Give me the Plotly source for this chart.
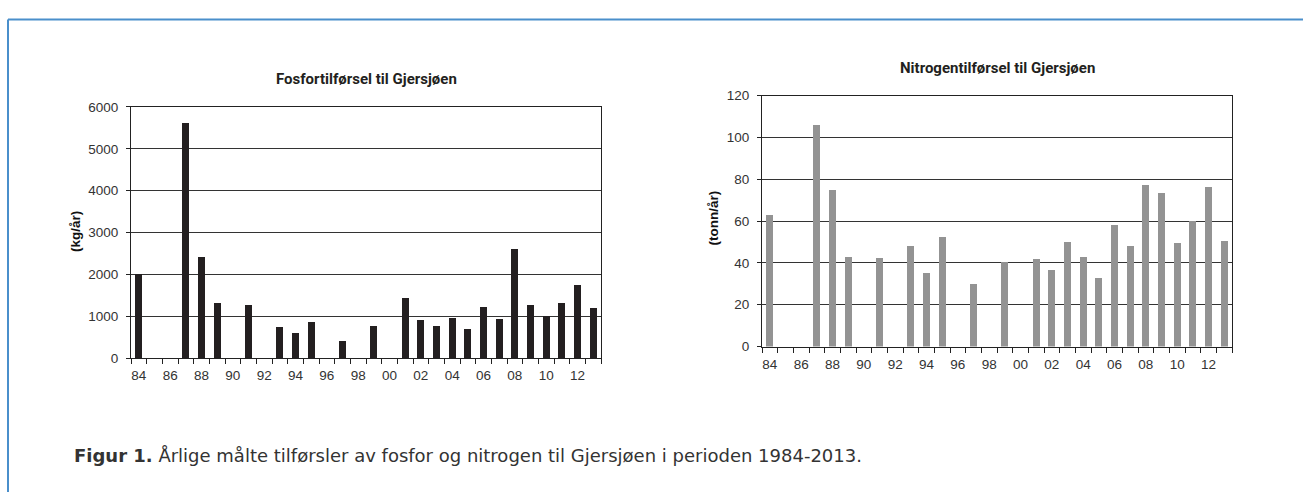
import plotly.graph_objects as go

# years 1984-2013, shown as two-digit labels
years = [1984, 1985, 1986, 1987, 1988, 1989, 1990, 1991, 1992, 1993,
         1994, 1995, 1996, 1997, 1998, 1999, 2000, 2001, 2002, 2003,
         2004, 2005, 2006, 2007, 2008, 2009, 2010, 2011, 2012, 2013]
year_labels = ['84', '85', '86', '87', '88', '89', '90', '91', '92', '93',
               '94', '95', '96', '97', '98', '99', '00', '01', '02', '03',
               '04', '05', '06', '07', '08', '09', '10', '11', '12', '13']

# fosfor, kg/år (None = ikke målt)
fosfor = [2000, None, None, 5620, 2420, 1310, None, 1270, None, 750,
          600, 860, None, 400, None, 760, None, 1440, 920, 780,
          960, 700, 1230, 940, 2620, 1270, 1010, 1330, 1760, 1190]

# nitrogen, tonn/år
nitrogen = [63, None, None, 106, 75, 43, None, 42.5, None, 48,
            35.5, 52.5, None, 30, None, 40.5, None, 42, 36.5, 50.2,
            42.8, 33, 58.2, 48.2, 77.5, 73.5, 49.5, 60, 76.5, 50.5]

W, H = 1303, 500
BORDER_BLUE = '#4a8fcb'
TEXT = '#231f20'

fig = go.Figure()

fig.add_trace(go.Bar(x=years, y=fosfor, width=0.43, marker_color='#231f20',
                     marker_line_width=0, xaxis='x', yaxis='y'))
fig.add_trace(go.Bar(x=years, y=nitrogen, width=0.43, marker_color='#939393',
                     marker_line_width=0, xaxis='x2', yaxis='y2'))

tick_font = dict(family='Liberation Sans, Arial', size=13.5, color='#333333')


def x_axis(domain, anchor):
    return dict(
        domain=domain, anchor=anchor,
        range=[years[0] - 0.5, years[-1] + 0.5],
        tickvals=years[::2], ticktext=year_labels[::2],
        ticks='', ticklabelstandoff=5,
        showgrid=False, zeroline=False,
        showline=True, linecolor='#222222', linewidth=1, mirror=True,
        minor=dict(tickvals=[y - 0.5 for y in years] + [years[-1] + 0.5],
                   ticks='outside', ticklen=5, tickcolor='#222222', showgrid=False),
        tickfont=tick_font, fixedrange=True)


def y_axis(domain, anchor, top, step):
    return dict(
        domain=domain, anchor=anchor,
        range=[0, top], dtick=step,
        ticks='outside', ticklen=4, tickcolor='#222222', ticklabelstandoff=5,
        showgrid=True, gridcolor='#333333', gridwidth=1,
        zeroline=False,
        showline=True, linecolor='#222222', linewidth=1, mirror=True,
        tickfont=tick_font, fixedrange=True)


fig.update_layout(
    width=W, height=H,
    margin=dict(l=0, r=0, t=0, b=0),
    paper_bgcolor='white', plot_bgcolor='white',
    showlegend=False,
    bargap=0,
    xaxis=x_axis([131 / W, 601 / W], 'y'),
    yaxis=y_axis([1 - 362 / H, 1 - 103 / H], 'x', 6000, 1000),
    xaxis2=x_axis([762 / W, 1232 / W], 'y2'),
    yaxis2=y_axis([1 - 350 / H, 1 - 91.5 / H], 'x2', 120, 20),
)

title_font = dict(family='Roboto', size=15, color=TEXT)
axis_title_font = dict(family='Liberation Sans, Arial', size=13.5, color='#111111')

annotations = [
    dict(text='<b>Fosfortilførsel til Gjersjøen</b>', x=366 / W, y=1 - 74 / H,
         font=title_font),
    dict(text='<b>Nitrogentilførsel til Gjersjøen</b>', x=997 / W, y=1 - 63 / H,
         font=title_font),
    dict(text='<b>(kg/år)</b>', x=75 / W, y=1 - 232 / H, textangle=-90,
         font=axis_title_font),
    dict(text='<b>(tonn/år)</b>', x=713 / W, y=1 - 218 / H, textangle=-90,
         font=axis_title_font),
    dict(text='<b>Figur 1.</b> Årlige målte tilførsler av fosfor og nitrogen til '
              'Gjersjøen i perioden 1984-2013.',
         x=72 / W, y=1 - 462 / H, xanchor='left',
         font=dict(family='DejaVu Sans', size=18, color='#333333')),
]
for a in annotations:
    a.setdefault('xanchor', 'center')
    a.update(xref='paper', yref='paper', yanchor='middle', showarrow=False)
fig.update_layout(annotations=annotations)

# blue frame: top and left edge of the figure box
fig.add_shape(type='line', xref='paper', yref='paper',
              x0=8 / W, x1=1, y0=1 - 13 / H, y1=1 - 13 / H,
              line=dict(color=BORDER_BLUE, width=2))
fig.add_shape(type='line', xref='paper', yref='paper',
              x0=8 / W, x1=8 / W, y0=0, y1=1 - 13 / H,
              line=dict(color=BORDER_BLUE, width=2))

# drop the browser's default body margin so the figure sits at (0, 0)
fig.write_html('out.html', config={'displayModeBar': False},
               post_script="document.body.style.margin='0';")
